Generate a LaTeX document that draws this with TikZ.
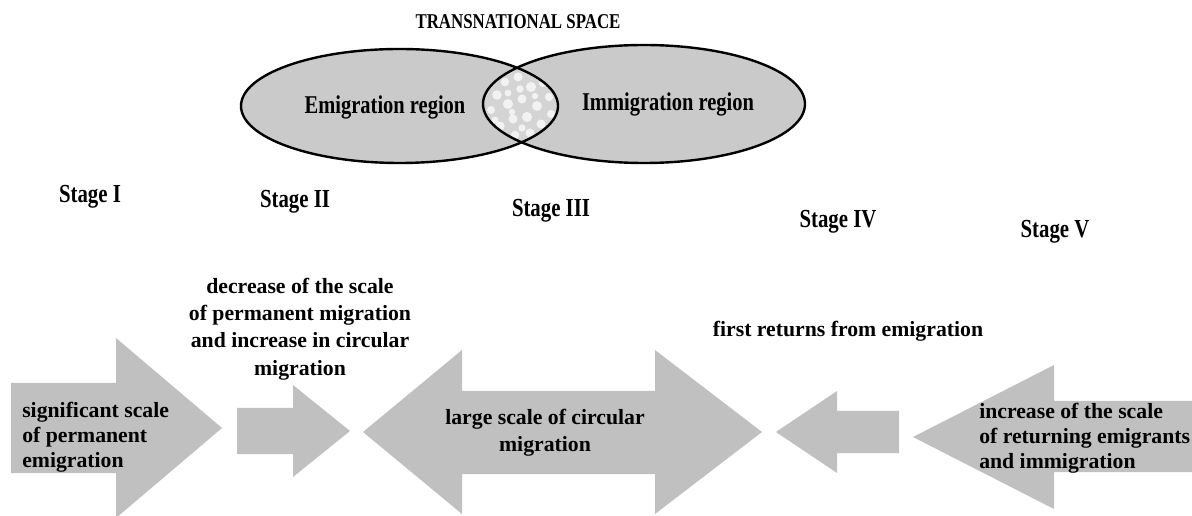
\documentclass[tikz,border=0pt]{standalone}
\usepackage{fontspec}
\setmainfont{Liberation Serif}
\newfontfamily\condfont[FakeStretch=0.8]{Liberation Serif}
\definecolor{arrowgray}{RGB}{192,192,192}
\definecolor{ellgray}{RGB}{202,202,202}
\definecolor{lensgray}{RGB}{212,212,212}
\tikzset{
  shapegray/.style={fill=arrowgray, draw=none},
  regionshape/.style={fill=ellgray, draw=none},
  regionline/.style={draw=black, line width=1.8pt},
  bodytext/.style={font=\bfseries\fontsize{16.3}{18.6}\selectfont, inner sep=0pt},
  stagelbl/.style={font=\condfont\bfseries\fontsize{19.5}{22}\selectfont, inner sep=0pt},
  regionlbl/.style={font=\condfont\bfseries\fontsize{19.2}{22}\selectfont, inner sep=0pt},
  titlelbl/.style={font=\condfont\bfseries\fontsize{15.8}{18}\selectfont, inner sep=0pt},
  speck/.style={fill=white, opacity=0.7}
}
\begin{document}
\begin{tikzpicture}[x=0.75pt, y=-0.75pt]
\useasboundingbox (0,0) rectangle (1192,516);
\fill[white] (0,0) rectangle (1192,516);

% ---- Venn diagram ----
\coordinate (emc) at (399.5,106);
\coordinate (imc) at (644,104);
\fill[regionshape] (emc) ellipse [x radius=118.875pt, y radius=42.75pt];
\fill[regionshape] (imc) ellipse [x radius=120.75pt, y radius=44.25pt];
\begin{scope}
  \clip (emc) ellipse [x radius=118.875pt, y radius=42.75pt];
  \fill[lensgray] (imc) ellipse [x radius=120.75pt, y radius=44.25pt];
  \clip (imc) ellipse [x radius=120.75pt, y radius=44.25pt];
  \foreach \px/\py/\r in {497/95/3.6, 505/82/3.2, 518/77/3.4, 531/87/3.8, 543/83/3.0,
                          491/110/3.0, 508/104/3.8, 522/99/3.4, 537/106/3.7, 549/97/3.1,
                          500/126/3.5, 513/119/3.4, 527/117/3.8, 541/124/3.4, 515/135/3.2,
                          530/133/3.4, 551/114/3.0, 520/89/2.8, 495/120/2.6, 534/72/2.6,
                          508/93/2.6, 546/133/2.6, 522/128/2.7, 512/112/2.4, 535/96/2.4}
    \fill[speck] (\px,\py) circle [radius=\r pt];
\end{scope}
\draw[regionline] (emc) ellipse [x radius=118.875pt, y radius=42.75pt];
\draw[regionline] (imc) ellipse [x radius=120.75pt, y radius=44.25pt];

\node[titlelbl] (title) at (518,22) {TRANSNATIONAL SPACE};
\node[regionlbl] (emig) at (385,107) {Emigration region};
\node[regionlbl] (immig) at (668,104) {Immigration region};

% ---- stage labels ----
\node[stagelbl] (s1) at (90,197) {Stage I};
\node[stagelbl] (s2) at (295,202) {Stage II};
\node[stagelbl] (s3) at (551,211) {Stage III};
\node[stagelbl] (s4) at (838,222) {Stage IV};
\node[stagelbl] (s5) at (1055,232) {Stage V};

% ---- arrows ----
\fill[shapegray] (11,383) -- (116,383) -- (116,338) -- (222,428) -- (116,518) -- (116,473) -- (11,473) -- cycle;
\fill[shapegray] (237,408) -- (293,408) -- (293,385) -- (350,431) -- (293,477) -- (293,454) -- (237,454) -- cycle;
\fill[shapegray] (363,432) -- (462,350) -- (462,391) -- (655,391) -- (655,350) -- (762,432)
                 -- (655,514) -- (655,474) -- (462,474) -- (462,514) -- cycle;
\fill[shapegray] (776,432) -- (837,391) -- (837,411) -- (899,411) -- (899,453) -- (837,453) -- (837,473) -- cycle;
\fill[shapegray] (913,437) -- (1054,365) -- (1054,401) -- (1195,401) -- (1195,472) -- (1054,472) -- (1054,509) -- cycle;

% ---- texts ----
\node[bodytext, align=center, font=\bfseries\fontsize{16.3}{20.6}\selectfont] (t2) at (300,329)
  {decrease of the scale\\ of permanent migration\\ and increase in circular\\ migration};
\node[bodytext] (t4) at (848,331) {first returns from emigration};
\node[bodytext, align=left, anchor=west] (t1) at (22,437)
  {significant scale\\ of permanent\\ emigration};
\node[bodytext, align=center, font=\bfseries\fontsize{16.3}{20.2}\selectfont] (t3) at (545,433)
  {large scale of circular\\ migration};
\node[bodytext, align=left, anchor=west] (t5) at (979,438)
  {increase of the scale\\ of returning emigrants\\ and immigration};
\end{tikzpicture}
\end{document}
